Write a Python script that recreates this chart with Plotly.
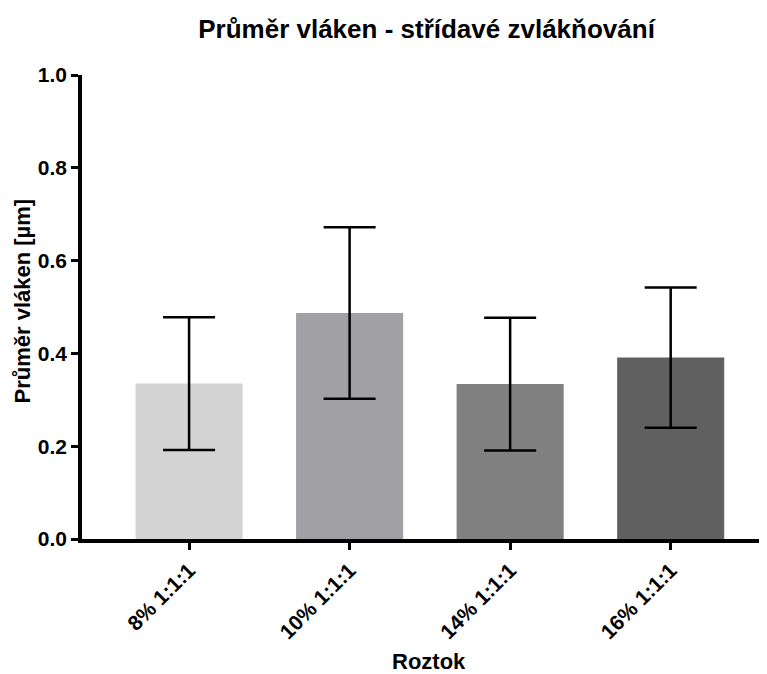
import plotly.graph_objects as go

categories = ["8% 1:1:1", "10% 1:1:1", "14% 1:1:1", "16% 1:1:1"]
means = [0.335, 0.487, 0.334, 0.391]
sds = [0.143, 0.185, 0.143, 0.151]
colors = ["#d3d3d3", "#a1a0a4", "#808080", "#606060"]

FONT = "Liberation Sans, Arial, sans-serif"

fig = go.Figure()
fig.add_trace(go.Bar(
    x=categories, y=means,
    marker=dict(color=colors, line=dict(width=0)),
    width=0.667,
    error_y=dict(type="data", array=sds, visible=True, color="black",
                 thickness=2.5, width=26),
))

fig.update_layout(
    width=767, height=674,
    margin=dict(l=74, r=8, t=67, b=143),
    plot_bgcolor="white", paper_bgcolor="white",
    showlegend=False,
    font=dict(family=FONT, color="black"),
    title=dict(text="<b>Průměr vláken - střídavé zvlákňování</b>",
               x=0.5457, xanchor="center", y=0.969, yanchor="middle",
               font=dict(size=26, family=FONT, color="black")),
    xaxis=dict(
        range=[-0.667, 3.6],
        showline=True, linewidth=3.5, linecolor="black",
        ticks="outside", ticklen=7, tickwidth=3, tickcolor="black",
        tickangle=-45,
        tickfont=dict(size=21, family=FONT, color="black", weight="bold"),
        showgrid=False, zeroline=False,
    ),
    yaxis=dict(
        range=[0, 1.0],
        dtick=0.2, tickformat=".1f",
        showline=True, linewidth=3.5, linecolor="black",
        ticks="outside", ticklen=7, tickwidth=3, tickcolor="black",
        tickfont=dict(size=21, family=FONT, color="black", weight="bold"),
        showgrid=False, zeroline=False,
    ),
    annotations=[
        dict(text="<b>Roztok</b>", xref="paper", yref="paper",
             x=0.507, y=-0.265, xanchor="center", yanchor="middle",
             showarrow=False, font=dict(size=22, family=FONT, color="black")),
        dict(text="<b>Průměr vláken [µm]</b>", xref="paper", yref="paper",
             x=-0.0875, y=0.512, xanchor="center", yanchor="middle", textangle=-90,
             showarrow=False, font=dict(size=22, family=FONT, color="black")),
    ],
)

fig.write_html("out.html")
